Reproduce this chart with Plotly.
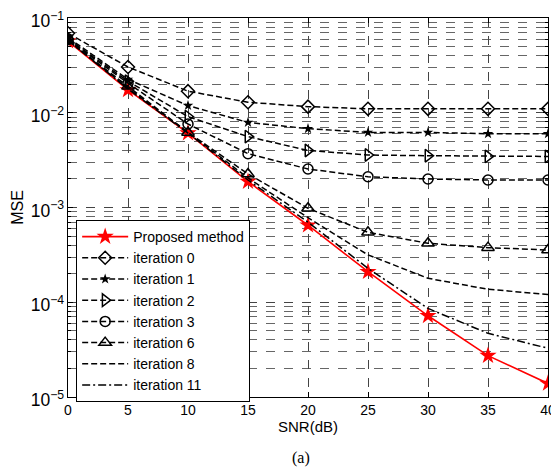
import plotly.graph_objects as go

snr = [0, 5, 10, 15, 20, 25, 30, 35, 40]

proposed = [0.057, 0.0174, 0.0061, 0.00188, 0.00065, 0.00021, 7.2e-5, 2.73e-5, 1.39e-5]
iter0 = [0.069, 0.0304, 0.0169, 0.0129, 0.0116, 0.0110, 0.0110, 0.0110, 0.0110]
iter1 = [0.062, 0.0225, 0.0119, 0.0079, 0.0068, 0.0062, 0.0062, 0.0060, 0.0060]
iter2 = [0.060, 0.0215, 0.0091, 0.0056, 0.0040, 0.00358, 0.00352, 0.00346, 0.00346]
iter3 = [0.059, 0.0205, 0.0076, 0.0037, 0.00255, 0.00211, 0.00200, 0.00195, 0.00195]
iter6 = [0.058, 0.0190, 0.0062, 0.00226, 0.00098, 0.000547, 0.000419, 0.000377, 0.000356]
iter8 = [0.058, 0.0182, 0.0062, 0.00205, 0.00078, 0.000316, 0.000179, 0.000137, 0.000121]
iter11 = [0.058, 0.0178, 0.0061, 0.00195, 0.00070, 0.000228, 8.6e-5, 4.7e-5, 3.27e-5]

x_ticks = [0, 5, 10, 15, 20, 25, 30, 35, 40]

fig = go.Figure()

dash_main = "6px,3px"

fig.add_trace(go.Scatter(x=snr, y=proposed, name="Proposed method", mode="lines+markers",
                         line=dict(color="#ff0000", width=1.6),
                         marker=dict(symbol="star", size=13, color="#ff0000")))
fig.add_trace(go.Scatter(x=snr, y=iter0, name="iteration 0", mode="lines+markers",
                         line=dict(color="black", width=1.5, dash=dash_main),
                         marker=dict(symbol="diamond-open", size=10, color="black", line=dict(width=1.5))))
fig.add_trace(go.Scatter(x=snr, y=iter1, name="iteration 1", mode="lines+markers",
                         line=dict(color="black", width=1.5, dash=dash_main),
                         marker=dict(symbol="star", size=8, color="black")))
fig.add_trace(go.Scatter(x=snr, y=iter2, name="iteration 2", mode="lines+markers",
                         line=dict(color="black", width=1.5, dash=dash_main),
                         marker=dict(symbol="triangle-right-open", size=11, color="black", line=dict(width=1.5))))
fig.add_trace(go.Scatter(x=snr, y=iter3, name="iteration 3", mode="lines+markers",
                         line=dict(color="black", width=1.5, dash=dash_main),
                         marker=dict(symbol="circle-open", size=10, color="black", line=dict(width=1.5))))
fig.add_trace(go.Scatter(x=snr, y=iter6, name="iteration 6", mode="lines+markers",
                         line=dict(color="black", width=1.5, dash=dash_main),
                         marker=dict(symbol="triangle-up-open", size=11, color="black", line=dict(width=1.5))))
fig.add_trace(go.Scatter(x=snr, y=iter8, name="iteration 8", mode="lines",
                         line=dict(color="black", width=1.5, dash=dash_main)))
fig.add_trace(go.Scatter(x=snr, y=iter11, name="iteration 11", mode="lines",
                         line=dict(color="black", width=1.5, dash="8px,3px,2px,3px")))

font = "Liberation Sans, Arial, sans-serif"

fig.update_layout(
    width=551, height=466,
    margin=dict(l=60, r=11, t=10, b=77, autoexpand=False),
    paper_bgcolor="white", plot_bgcolor="white",
    font=dict(family=font, size=14, color="black"),
    showlegend=True,
    legend=dict(x=0.017, y=0.467, xanchor="left", yanchor="top",
                bordercolor="black", borderwidth=1, bgcolor="white",
                font=dict(family=font, size=14, color="black"),
                itemwidth=46, tracegroupgap=0),
    xaxis=dict(range=[0, 40], tickvals=x_ticks, ticktext=[str(v) for v in x_ticks],
               automargin=False, ticklabeloverflow="allow",
               showline=True, linecolor="black", linewidth=1.2, mirror="ticks",
               ticks="inside", ticklen=5, tickcolor="black",
               showgrid=True, gridcolor="#444", griddash="dash", gridwidth=1,
               zeroline=False,
               title=dict(text="SNR(dB)", font=dict(size=15), standoff=4),
               tickfont=dict(size=14)),
    yaxis=dict(type="log", range=[-5, -1], dtick=1, exponentformat="power",
               automargin=False, ticklabeloverflow="allow", ticklabelshift=3,
               showline=True, linecolor="black", linewidth=1.2, mirror="ticks",
               ticks="inside", ticklen=5, tickcolor="black",
               showgrid=True, gridcolor="#444", griddash="dash", gridwidth=1,
               minor=dict(ticks="inside", ticklen=3, tickcolor="black",
                          showgrid=True, gridcolor="#666", griddash="dash", gridwidth=1),
               title=dict(text="MSE", font=dict(size=16), standoff=3),
               tickfont=dict(size=14)),
    annotations=[dict(text="(a)", x=0.485, y=-0.19, xref="paper", yref="paper",
                      showarrow=False, font=dict(family="Liberation Serif, Times New Roman, serif", size=16))],
)

fig.write_html("out.html")
